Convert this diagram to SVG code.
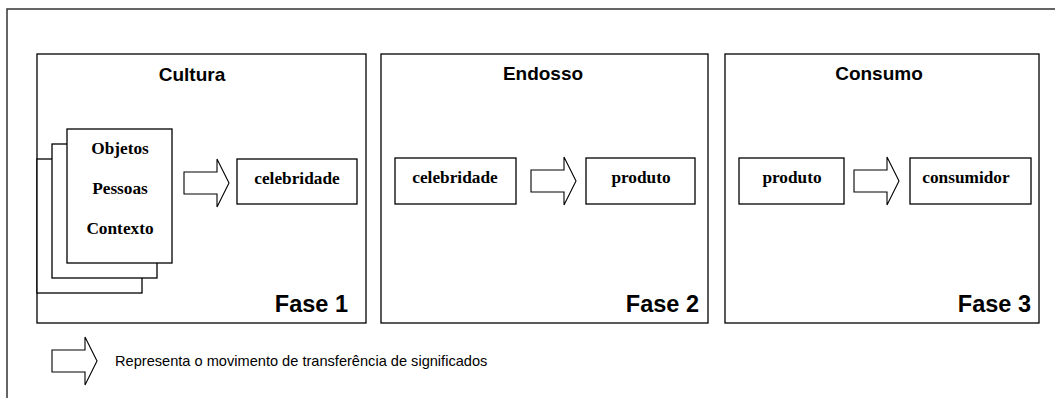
<svg xmlns="http://www.w3.org/2000/svg" xmlns:xlink="http://www.w3.org/1999/xlink" width="1055" height="398" viewBox="0 0 1055 398">
  <style>
    .frame { fill: none; stroke: #333; stroke-width: 1.5; }
    .box { fill: #fff; stroke: #000; stroke-width: 1.3; }
    .arrow { fill: #fff; stroke: #000; stroke-width: 1.1; stroke-linejoin: miter; }
    .title { font-family: "Liberation Sans", Arial, sans-serif; font-weight: bold; font-size: 19px; text-anchor: middle; fill: #000; }
    .fase { font-family: "Liberation Sans", Arial, sans-serif; font-weight: bold; font-size: 23.5px; text-anchor: end; fill: #000; }
    .lbl { font-family: "Liberation Serif", "Times New Roman", serif; font-weight: bold; font-size: 17.3px; text-anchor: middle; fill: #000; }
    .legend { font-family: "Liberation Sans", Arial, sans-serif; font-size: 14.6px; fill: #000; }
  </style>
  <defs>
    <path id="blockArrow" class="arrow" d="M0,13 H33 V0 L45,24 L33,48 V35 H0 Z"/>
  </defs>
  <rect width="1055" height="398" fill="#fff"/>
  <rect id="outer-frame" class="frame" x="7" y="9" width="1100" height="500"/>

  <g id="fase1">
    <rect class="box" x="37" y="54" width="329" height="269"/>
    <text class="title" x="192" y="81">Cultura</text>
    <text class="fase" x="348" y="312">Fase 1</text>
  </g>
  <g id="stack">
    <rect class="box" x="37" y="159" width="105" height="134"/>
    <rect class="box" x="52" y="144" width="105" height="134"/>
    <rect class="box" x="67" y="129" width="105" height="134"/>
    <text class="lbl" x="120" y="154">Objetos</text>
    <text class="lbl" x="120" y="194">Pessoas</text>
    <text class="lbl" x="120" y="234">Contexto</text>
  </g>
  <g id="celebridade1">
    <rect class="box" x="237" y="159" width="120" height="45"/>
    <text class="lbl" x="297" y="184">celebridade</text>
  </g>

  <g id="fase2">
    <rect class="box" x="381" y="54" width="327" height="269"/>
    <text class="title" x="543" y="80">Endosso</text>
    <text class="fase" x="699" y="312">Fase 2</text>
  </g>
  <g id="celebridade2">
    <rect class="box" x="395" y="158" width="121" height="46"/>
    <text class="lbl" x="455" y="183">celebridade</text>
  </g>
  <g id="produto2">
    <rect class="box" x="586" y="158" width="109" height="46"/>
    <text class="lbl" x="641" y="183">produto</text>
  </g>

  <g id="fase3">
    <rect class="box" x="725" y="54" width="314" height="269"/>
    <text class="title" x="879" y="80">Consumo</text>
    <text class="fase" x="1031" y="312">Fase 3</text>
  </g>
  <g id="produto3">
    <rect class="box" x="739" y="158" width="105" height="46"/>
    <text class="lbl" x="792" y="183">produto</text>
  </g>
  <g id="consumidor">
    <rect class="box" x="910" y="158" width="121" height="46"/>
    <text class="lbl" x="966" y="183">consumidor</text>
  </g>

  <g id="connectors">
    <use xlink:href="#blockArrow" href="#blockArrow" transform="translate(184,159)"/>
    <use xlink:href="#blockArrow" href="#blockArrow" transform="translate(531,157)"/>
    <use xlink:href="#blockArrow" href="#blockArrow" transform="translate(854,157)"/>
  </g>

  <g id="legend">
    <use xlink:href="#blockArrow" href="#blockArrow" transform="translate(52,337)"/>
    <text class="legend" x="115" y="366">Representa o movimento de transferência de significados</text>
  </g>
</svg>
